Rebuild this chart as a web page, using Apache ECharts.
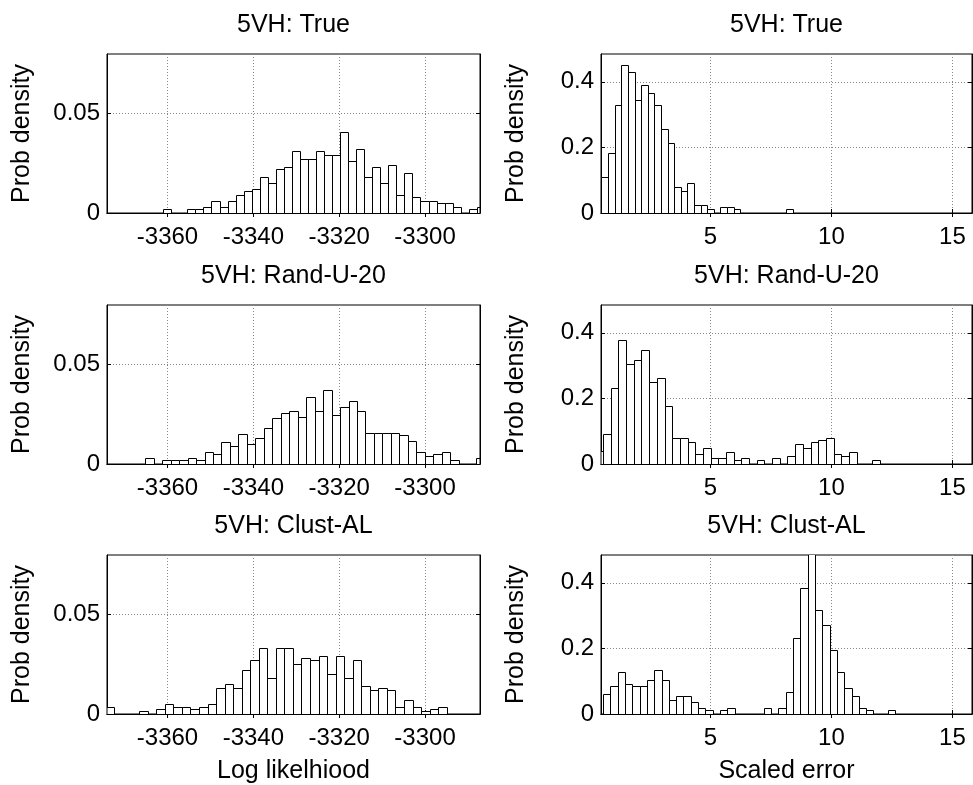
<!DOCTYPE html>
<html>
<head>
<meta charset="UTF-8">
<title>5VH histograms</title>
<script src="https://cdn.jsdelivr.net/npm/echarts@6/dist/echarts.min.js"></script>
<style>
html, body { margin: 0; padding: 0; background: #fff; }
#main { width: 973px; height: 785px; }
</style>
</head>
<body>
<div id="main"></div>
<script>
// panel titles and tick values
var titles = ['5VH: True', '5VH: Rand-U-20', '5VH: Clust-AL'];
var llTicks = [-3360, -3340, -3320, -3300];
var llYTicks = [0, 0.05];
var errTicks = [5, 10, 15];
var errYTicks = [0, 0.2, 0.4];

// log likelihood histograms (first bin edge, bin width, density per bin)
var llTrueStart = -3361.0, llTrueWidth = 1.873;
var llTrue = [0.002, 0, 0, 0.002, 0.002, 0.0032, 0.006, 0.0032, 0.006, 0.009,
    0.011, 0.012, 0.018, 0.015, 0.022, 0.023, 0.031, 0.027, 0.027, 0.031,
    0.029, 0.029, 0.041, 0.026, 0.032, 0.018, 0.023, 0.015, 0.024, 0.009,
    0.020, 0.008, 0.006, 0.006, 0.005, 0.005, 0.003, 0, 0.002, 0.003];

var llRandStart = -3365.2, llRandWidth = 1.974;
var llRand = [0.003, 0, 0.0018, 0.0018, 0.0018, 0.003, 0.0018, 0.0059, 0.0049, 0.011,
    0.0089, 0.0149, 0.0099, 0.0129, 0.018, 0.023, 0.0258, 0.0268, 0.0238, 0.0339,
    0.0268, 0.0371, 0.0248, 0.0289, 0.0319, 0.0268, 0.0158, 0.0158, 0.0158, 0.0158,
    0.0148, 0.0117, 0.0059, 0.0039, 0.0049, 0.0059, 0.0018, 0, 0, 0.003];

var llClustStart = -3374.56, llClustWidth = 1.99;
var llClust = [0.0037, 0, 0, 0, 0.0017, 0, 0.0027, 0.0048, 0.0037, 0.0037,
    0.0027, 0.0037, 0.0048, 0.0129, 0.015, 0.0129, 0.0221, 0.0272, 0.0333, 0.018,
    0.0333, 0.0333, 0.0252, 0.0282, 0.0272, 0.0293, 0.0201, 0.0293, 0.018, 0.0272,
    0.0139, 0.0119, 0.0129, 0.0119, 0.0037, 0.0068, 0.0037, 0.0017, 0.0027, 0.0037];

// scaled error histograms
var errTrueStart = 0.50, errTrueWidth = 0.273;
var errTrue = [0.111, 0.183, 0.328, 0.451, 0.431, 0.346, 0.389, 0.365, 0.328, 0.256,
    0.213, 0.080, 0.068, 0.092, 0.025, 0.025, 0.013, 0, 0.019, 0.019,
    0.013, 0, 0, 0, 0, 0, 0, 0, 0.013];

var errRandStart = 0.2475, errRandWidth = 0.3175;
var errRand = [0.039, 0.092, 0.231, 0.378, 0.305, 0.317, 0.347, 0.250, 0.262, 0.177,
    0.080, 0.080, 0.068, 0.031, 0.050, 0.019, 0.019, 0.038, 0.013, 0.019,
    0, 0.013, 0, 0.019, 0, 0.025, 0.062, 0.050, 0.068, 0.074,
    0.080, 0.031, 0.025, 0.038, 0, 0, 0.013];

var errClustStart = 0.565, errClustWidth = 0.302;
var errClust = [0.061, 0.085, 0.128, 0.092, 0.085, 0.085, 0.104, 0.134, 0.104, 0.043,
    0.055, 0.055, 0.037, 0.018, 0.012, 0, 0.012, 0.018, 0, 0,
    0, 0, 0.018, 0, 0.018, 0.067, 0.232, 0.385, 0.55, 0.318,
    0.273, 0.195, 0.128, 0.079, 0.055, 0.018, 0.012, 0, 0, 0.012];

function bins(start, width, heights) {
    return heights.map(function (h, i) {
        return [start + i * width, start + (i + 1) * width, h];
    });
}

var panels = [
    { data: bins(llTrueStart, llTrueWidth, llTrue), col: 0, row: 0 },
    { data: bins(errTrueStart, errTrueWidth, errTrue), col: 1, row: 0 },
    { data: bins(llRandStart, llRandWidth, llRand), col: 0, row: 1 },
    { data: bins(errRandStart, errRandWidth, errRand), col: 1, row: 1 },
    { data: bins(llClustStart, llClustWidth, llClust), col: 0, row: 2 },
    { data: bins(errClustStart, errClustWidth, errClust), col: 1, row: 2 }
];

var FONT = "'Liberation Sans', Arial, sans-serif";
var colLeft = [107, 601], colWidth = [373, 371];
var rowTop = [54, 305, 555], rowHeight = 159;

function renderBar(params, api) {
    var h = api.value(2);
    if (!h) return null;
    var p0 = api.coord([api.value(0), 0]);
    var p1 = api.coord([api.value(1), h]);
    var x0 = Math.round(p0[0]) + 0.5, x1 = Math.round(p1[0]) + 0.5;
    var y0 = Math.round(p0[1]) + 0.5, y1 = Math.round(p1[1]) + 0.5;
    var cs = params.coordSys;
    var shape = echarts.graphic.clipRectByRect(
        { x: x0, y: y1, width: x1 - x0, height: y0 - y1 },
        { x: cs.x, y: cs.y - 1, width: cs.width, height: cs.height + 2 });
    if (!shape) return null;
    return {
        type: 'rect',
        shape: shape,
        style: { fill: '#fff', stroke: '#000', lineWidth: 1 }
    };
}

var grids = [], xAxes = [], yAxes = [], series = [], texts = [];
panels.forEach(function (p, i) {
    var isLL = p.col === 0;
    grids.push({
        left: colLeft[p.col], top: rowTop[p.row],
        width: colWidth[p.col], height: rowHeight,
        show: true, borderColor: '#000', borderWidth: 1,
        outerBoundsMode: 'none'
    });
    var xmin = isLL ? -3374.1 : 0.48, xmax = isLL ? -3287.2 : 15.81;
    var xt = isLL ? llTicks : errTicks;
    var ymax = isLL ? 0.08 : 0.485;
    var yt = isLL ? llYTicks : errYTicks;
    var isBottom = p.row === 2;
    xAxes.push({
        type: 'value', gridIndex: i, min: xmin, max: xmax, position: 'bottom',
        axisLine: { lineStyle: { color: '#000', width: 1 } },
        axisTick: { inside: true, length: 4, customValues: xt, lineStyle: { color: '#000' } },
        axisLabel: {
            customValues: xt, margin: 12, fontSize: 24, color: '#000', fontFamily: FONT,
            formatter: function (v) { return String(v); }
        },
        splitLine: { show: true, lineStyle: { color: '#888', type: [1, 2], width: 1 } },
        name: isBottom ? (isLL ? 'Log likelhiood' : 'Scaled error') : '',
        nameLocation: 'middle', nameGap: 45,
        nameTextStyle: { fontSize: 25, color: '#000', fontFamily: FONT }
    });
    xAxes.push({
        type: 'value', gridIndex: i, min: xmin, max: xmax, position: 'top',
        axisLine: { lineStyle: { color: '#000', width: 1 } },
        axisTick: { inside: true, length: 4, customValues: xt, lineStyle: { color: '#000' } },
        axisLabel: { show: false, customValues: xt },
        splitLine: { show: false }
    });
    yAxes.push({
        type: 'value', gridIndex: i, min: 0, max: ymax, position: 'left',
        axisLine: { show: true, lineStyle: { color: '#000', width: 1 } },
        axisTick: { show: true, inside: true, length: 4, customValues: yt, lineStyle: { color: '#000' } },
        axisLabel: {
            customValues: yt, margin: 7, fontSize: 24, color: '#000', fontFamily: FONT,
            formatter: function (v) { return String(v); }
        },
        splitLine: { show: true, lineStyle: { color: '#888', type: [1, 2], width: 1 } },
        name: 'Prob density', nameLocation: 'middle', nameGap: 72, nameRotate: 90,
        nameTextStyle: { fontSize: 25, color: '#000', fontFamily: FONT }
    });
    yAxes.push({
        type: 'value', gridIndex: i, min: 0, max: ymax, position: 'right',
        axisLine: { show: true, lineStyle: { color: '#000', width: 1 } },
        axisTick: { show: true, inside: true, length: 4, customValues: yt, lineStyle: { color: '#000' } },
        axisLabel: { show: false, customValues: yt },
        splitLine: { show: false }
    });
    series.push({
        type: 'custom',
        xAxisIndex: i * 2, yAxisIndex: i * 2,
        renderItem: renderBar,
        encode: { x: [0, 1], y: 2 },
        clip: true,
        silent: true,
        data: p.data
    });
    if (p.col === 0) {
        [0, 1].forEach(function (c) {
            texts.push({
                type: 'text',
                x: colLeft[c] + colWidth[c] / 2, y: rowTop[p.row] - 29,
                style: {
                    text: titles[p.row], fontSize: 25, fontFamily: FONT, fill: '#000',
                    align: 'center', verticalAlign: 'middle'
                }
            });
        });
    }
});

var chart = echarts.init(document.getElementById('main'));
chart.setOption({
    backgroundColor: '#fff',
    animation: false,
    grid: grids,
    xAxis: xAxes,
    yAxis: yAxes,
    series: series,
    graphic: texts
});
</script>
</body>
</html>
